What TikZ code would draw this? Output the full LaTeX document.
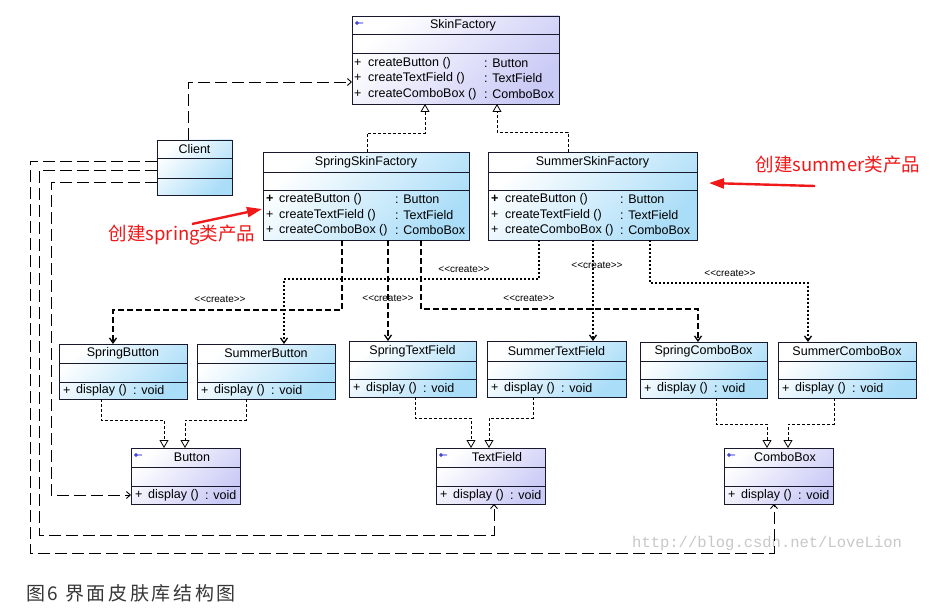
\documentclass[tikz,border=0pt]{standalone}
\usepackage{fontspec}
\setmainfont{Liberation Sans}
\newfontfamily\cjk{Noto Sans CJK SC}
\newfontfamily\cjkcap[LetterSpace=14]{Noto Sans CJK SC}
\newfontfamily\wmfont{Liberation Mono}
\usetikzlibrary{arrows.meta,calc}
\definecolor{clsblue}{RGB}{170,221,248}
\definecolor{ifcblue}{RGB}{202,202,246}
\definecolor{redann}{RGB}{240,24,24}
\definecolor{edge}{RGB}{25,25,45}
\definecolor{wmgray}{RGB}{200,200,200}
\definecolor{capgray}{RGB}{55,55,55}
\tikzset{
  clsbox/.style={draw=edge, line width=0.9pt, left color=white, right color=clsblue, shading angle=45, inner sep=0pt, outer sep=0pt},
  ifcbox/.style={draw=edge, line width=0.9pt, left color=white, right color=ifcblue, shading angle=45, inner sep=0pt, outer sep=0pt},
  sepline/.style={draw=edge, line width=0.9pt},
  lbl/.style={font=\fontsize{12.5}{14}\selectfont, inner sep=0pt, text=black},
  lblw/.style={lbl, anchor=west},
  crl/.style={font=\fontsize{10}{12}\selectfont, inner sep=0pt, text=black},
  real/.style={draw=black, line width=0.8pt, dash pattern=on 3pt off 2pt, -{Triangle[open, length=8pt, width=9pt, fill=white]}},
  spr/.style={draw=black, line width=1.8pt, dash pattern=on 6pt off 3pt, -{Straight Barb[length=5pt, width=7pt, line width=1.3pt]}},
  summ/.style={draw=black, line width=1.8pt, dash pattern=on 2pt off 2pt, -{Straight Barb[length=5pt, width=7pt, line width=1.3pt]}},
  dep/.style={draw=black, line width=0.9pt, dash pattern=on 12pt off 5pt, -{Straight Barb[length=4pt, width=7pt, line width=0.9pt]}},
  redarr/.style={draw=redann, line width=2.4pt, -{Triangle[length=15pt, width=10pt]}},
  redtxt/.style={font=\cjk\fontsize{18.5}{21}\selectfont, text=redann, inner sep=0pt},
  icon/.style={draw=blue!80!black, line width=0.7pt}
}
% name, style, x1, y1, x2, y2, sep1, sep2
\newcommand{\umlbox}[8]{%
  \node[#2, minimum width={(#5)-(#3)}, minimum height={(#6)-(#4)}, anchor=north west] (#1) at (#3,#4) {};
  \draw[sepline] (#1.west |- 0,#7) -- (#1.east |- 0,#7) (#1.west |- 0,#8) -- (#1.east |- 0,#8);
}
\newcommand{\ifcicon}[1]{%
  \draw[icon] ($(#1.north west)+(5,7)$) circle (1.3pt) ($(#1.north west)+(6.3,7)$) -- ($(#1.north west)+(11,7)$);
}
\newcommand{\disprow}[2]{% node name, y
  \node[lblw] (#1-p) at ($(#1.west |- 0,#2)+(4,0)$) {+};
  \node[lblw] (#1-d) at ($(#1.west |- 0,#2)+(17,0)$) {display ()};
  \node[lblw] (#1-v) at ($(#1.west |- 0,#2)+(74,0)$) {: void};
}
\begin{document}
\begin{tikzpicture}[x=1pt, y=-1pt]
\useasboundingbox (0,0) rectangle (950,615);
\fill[white] (0,0) rectangle (950,615);

% watermark
\node[font=\wmfont\fontsize{15.5}{18}\selectfont, text=wmgray, anchor=west, inner sep=0pt] (wm) at (632,543) {http://blog.csdn.net/LoveLion};

% ---------- boxes ----------
\umlbox{sf}{ifcbox}{352}{16}{559}{104}{34}{53}
\ifcicon{sf}
\node[lbl] (sf-t) at (463,25) {SkinFactory};
\node[lblw] (sf-p1) at (354,63) {+};
\node[lblw] (sf-m1) at (368,63) {createButton ()};
\node[lblw] (sf-r1) at (484,63) {: Button};
\node[lblw] (sf-p2) at (354,78) {+};
\node[lblw] (sf-m2) at (368,78) {createTextField ()};
\node[lblw] (sf-r2) at (484,78) {: TextField};
\node[lblw] (sf-p3) at (354,94) {+};
\node[lblw] (sf-m3) at (368,94) {createComboBox ()};
\node[lblw] (sf-r3) at (484,94) {: ComboBox};

\umlbox{cl}{clsbox}{157}{140}{232}{195}{158}{178}
\node[lbl] (cl-t) at (194.5,149) {Client};

\umlbox{ssf}{clsbox}{263}{152}{469}{240}{172}{190}
\node[lbl] (ssf-t) at (366,162) {SpringSkinFactory};
\node[lblw] (ssf-p1) at (266,199) {\textbf{+}};
\node[lblw] (ssf-m1) at (279,199) {createButton ()};
\node[lblw] (ssf-r1) at (395,199) {: Button};
\node[lblw] (ssf-p2) at (266,215) {+};
\node[lblw] (ssf-m2) at (279,215) {createTextField ()};
\node[lblw] (ssf-r2) at (395,215) {: TextField};
\node[lblw] (ssf-p3) at (266,230) {+};
\node[lblw] (ssf-m3) at (279,230) {createComboBox ()};
\node[lblw] (ssf-r3) at (395,230) {: ComboBox};

\umlbox{msf}{clsbox}{488}{152}{697}{240}{172}{190}
\node[lbl] (msf-t) at (592.5,162) {SummerSkinFactory};
\node[lblw] (msf-p1) at (491,199) {\textbf{+}};
\node[lblw] (msf-m1) at (505,199) {createButton ()};
\node[lblw] (msf-r1) at (620,199) {: Button};
\node[lblw] (msf-p2) at (491,215) {+};
\node[lblw] (msf-m2) at (505,215) {createTextField ()};
\node[lblw] (msf-r2) at (620,215) {: TextField};
\node[lblw] (msf-p3) at (491,230) {+};
\node[lblw] (msf-m3) at (505,230) {createComboBox ()};
\node[lblw] (msf-r3) at (620,230) {: ComboBox};

\umlbox{sbtn}{clsbox}{59}{344}{187}{399}{363}{382}
\node[lbl] (sbtn-t) at (123,353.5) {SpringButton};
\disprow{sbtn}{390.5}
\umlbox{mbtn}{clsbox}{197}{344}{335}{399}{363}{382}
\node[lbl] (mbtn-t) at (266,353.5) {SummerButton};
\disprow{mbtn}{390.5}
\umlbox{stf}{clsbox}{349}{341}{476}{397}{361}{379}
\node[lbl] (stf-t) at (412.5,351) {SpringTextField};
\disprow{stf}{388}
\umlbox{mtf}{clsbox}{487}{341}{626}{397}{361}{379}
\node[lbl] (mtf-t) at (556.5,351) {SummerTextField};
\disprow{mtf}{388}
\umlbox{scb}{clsbox}{640}{342}{767}{398}{361}{379}
\node[lbl] (scb-t) at (703.5,351.5) {SpringComboBox};
\disprow{scb}{388.5}
\umlbox{mcb}{clsbox}{778}{342}{916}{398}{361}{379}
\node[lbl] (mcb-t) at (847,351.5) {SummerComboBox};
\disprow{mcb}{388.5}

\umlbox{btn}{ifcbox}{131}{448}{240}{504}{467}{486}
\ifcicon{btn}
\node[lbl] (btn-t) at (192,457.5) {Button};
\disprow{btn}{495}
\umlbox{tf}{ifcbox}{436}{448}{545}{504}{467}{486}
\ifcicon{tf}
\node[lbl] (tf-t) at (497,457.5) {TextField};
\disprow{tf}{495}
\umlbox{cb}{ifcbox}{724}{448}{833}{504}{467}{486}
\ifcicon{cb}
\node[lbl] (cb-t) at (785,457.5) {ComboBox};
\disprow{cb}{495}

% ---------- realization ----------
\draw[real] (ssf.north -| 367,0) |- (425,133) -- (sf.south -| 425,0);
\draw[real] (msf.north -| 568,0) |- (497,132) -- (sf.south -| 497,0);
\draw[real] (sbtn.south -| 101,0) |- (164,420) -- (btn.north -| 164,0);
\draw[real] (mbtn.south -| 246,0) |- (185,420) -- (btn.north -| 185,0);
\draw[real] (stf.south -| 415,0) |- (471,418) -- (tf.north -| 471,0);
\draw[real] (mtf.south -| 533,0) |- (489,418) -- (tf.north -| 489,0);
\draw[real] (scb.south -| 716,0) |- (767,424) -- (cb.north -| 767,0);
\draw[real] (mcb.south -| 834,0) |- (788,424) -- (cb.north -| 788,0);

% ---------- create dependencies ----------
\draw[spr] (ssf.south -| 342,0) |- (113,310) -- (sbtn.north -| 113,0);
\draw[spr] (ssf.south -| 388,0) -- (stf.north -| 388,0);
\draw[spr] (ssf.south -| 421,0) |- (698,309) -- (scb.north -| 698,0);
\draw[summ] (msf.south -| 539,0) |- (284,279) -- (mbtn.north -| 284,0);
\draw[summ] (msf.south -| 593,0) -- (mtf.north -| 593,0);
\draw[summ] (msf.south -| 650,0) |- (808,283) -- (mcb.north -| 808,0);
\node[crl] (c1) at (220,299) {{<}{<}create{>}{>}};
\node[crl] (c2) at (388,298) {{<}{<}create{>}{>}};
\node[crl] (c3) at (529,298) {{<}{<}create{>}{>}};
\node[crl] (c4) at (464,269) {{<}{<}create{>}{>}};
\node[crl] (c5) at (597,265) {{<}{<}create{>}{>}};
\node[crl] (c6) at (730,273) {{<}{<}create{>}{>}};

% ---------- client dependencies ----------
\draw[dep] (cl.north -| 188,0) |- (sf.west |- 0,82);
\draw[dep] (cl.west |- 0,161) -| (30,553) -| (cb.south -| 774,0);
\draw[dep] (cl.west |- 0,170) -| (39,535) -| (tf.south -| 494,0);
\draw[dep] (cl.west |- 0,182) -| (51,495) -- (btn.west |- 0,495);

% ---------- red annotations ----------
\node[redtxt] (ann1) at (182,235) {创建spring类产品};
\coordinate (ann1s) at (192,224);
\draw[redarr] (ann1s) -- ($(ssf.west |- 0,209)+(-1,0)$);
\node[redtxt] (ann2) at (838,165) {创建summer类产品};
\coordinate (ann2s) at (815,186);
\draw[redarr] (ann2s) -- ($(msf.east |- 0,183)+(12,0)$);

% ---------- caption ----------
\node[font=\cjkcap\fontsize{19}{21}\selectfont, text=capgray, anchor=west, inner sep=0pt] (cap) at (26,593) {图6 界面皮肤库结构图};
\end{tikzpicture}
\end{document}
